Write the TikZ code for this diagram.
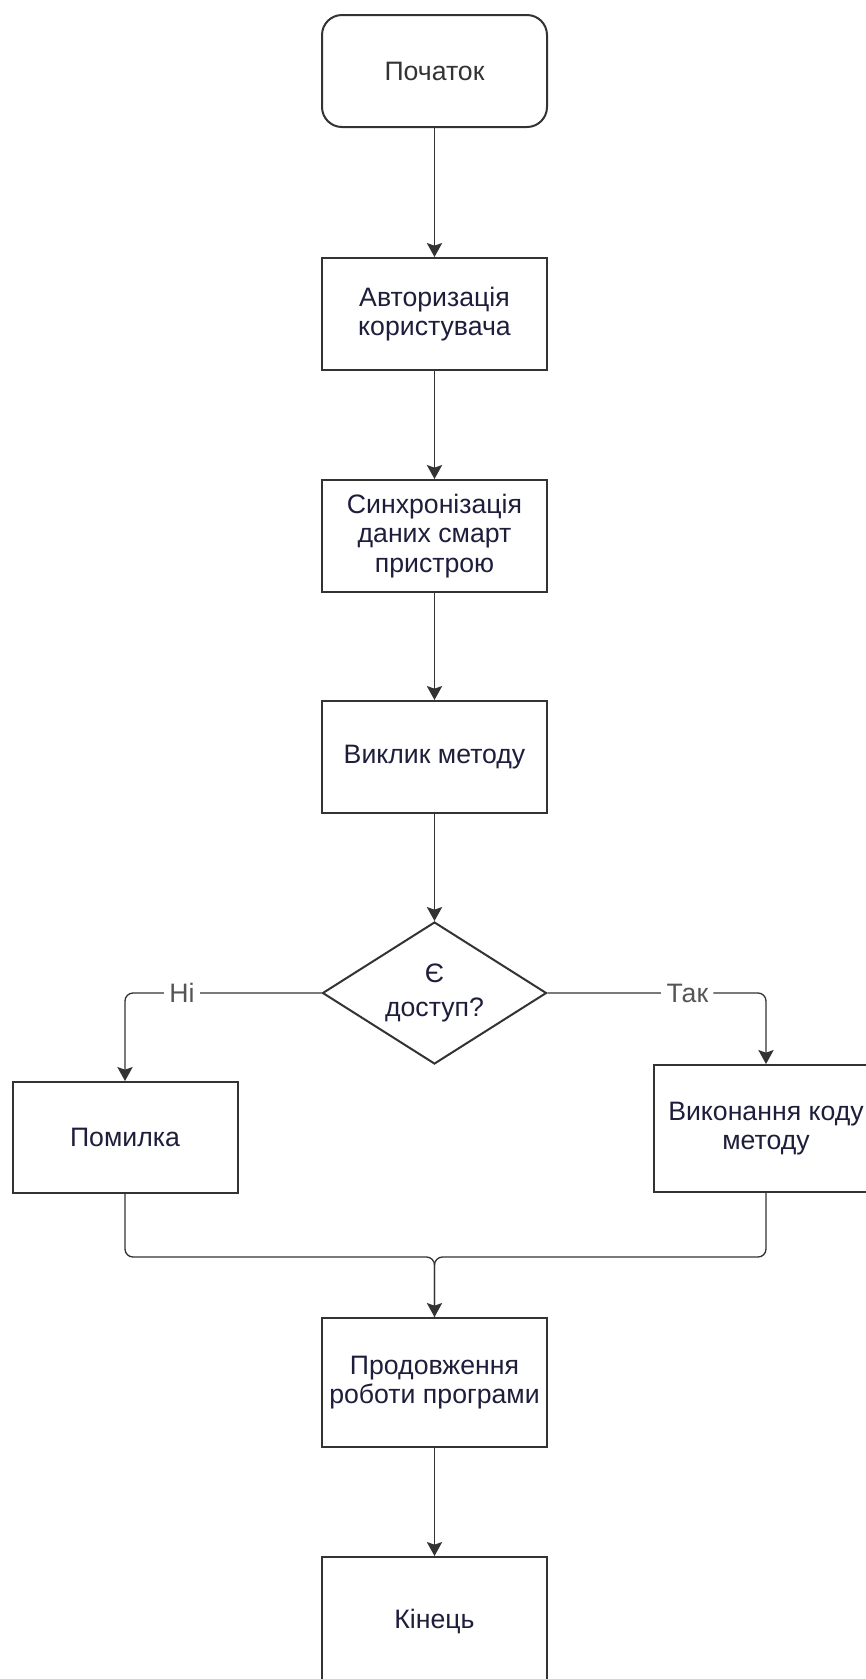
\documentclass[tikz,border=0pt]{standalone}
\usepackage{fontspec}
\setmainfont{Liberation Sans}
\usepackage{tikz}
\usetikzlibrary{arrows.meta,positioning,shapes.geometric}
\definecolor{linegray}{HTML}{333333}
\definecolor{textnavy}{HTML}{1E1E3C}
\definecolor{labelgray}{HTML}{555555}

\begin{document}
\begin{tikzpicture}[x=0.75pt, y=-0.75pt,
  line/.style={draw=linegray, line width=1pt, rounded corners=6pt},
  arr/.style={line, -{Stealth[length=10.5pt, width=11.5pt, inset=2pt]}},
  startbox/.style={draw=linegray, line width=1.5pt, rounded corners=15pt, fill=white,
                   minimum width=168.75pt, minimum height=84pt, inner sep=0pt,
                   align=center, text=linegray, font=\fontsize{20}{22}\selectfont},
  pbox/.style={draw=linegray, line width=1.5pt, fill=white,
               minimum width=168.75pt, minimum height=84pt, inner sep=0pt,
               align=center, text=textnavy, font=\fontsize{20}{22}\selectfont},
  decbox/.style={diamond, aspect=1.6, draw=linegray, line width=1.5pt, fill=white,
                 minimum width=168pt, minimum height=106.5pt, inner sep=0pt,
                 align=center, text=textnavy, font=\fontsize{20}{22}\selectfont},
  lbl/.style={fill=white, inner xsep=4pt, inner ysep=1pt, text=labelgray,
              font=\fontsize{20}{22}\selectfont},
]
\useasboundingbox (0,0) rectangle (866,1679);

\node[startbox] (start) at (434.5,71) {Початок};

\node[pbox] (auth) at (434.5,314)
  {Авторизація\\користувача};

\node[pbox] (sync) at (434.5,536)
  {Синхронізація\\даних смарт\\пристрою};

\node[pbox] (call) at (434.5,757)
  {Виклик методу};

\node[decbox] (access) at (434.5,993)
  {Є\\[3.5pt]доступ?};

\node[pbox, minimum height=83.25pt] (err) at (125,1137.5)
  {Помилка};

\node[pbox, minimum height=95.25pt] (exec) at (766,1128.5)
  {Виконання коду\\методу};

\node[pbox, minimum height=96.75pt] (cont) at (434.5,1382.5)
  {Продовження\\роботи програми};

\node[pbox, minimum height=96pt] (fin) at (434.5,1621)
  {Кінець};

\coordinate (join) at (434.5,1257);

\draw[arr] (start.south) -- (auth.north);
\draw[arr] (auth.south)  -- (sync.north);
\draw[arr] (sync.south)  -- (call.north);
\draw[arr] (call.south)  -- (access.north);
\draw[arr] (access.west) -| node[lbl, pos=0.355] (no) {Ні} (err.north);
\draw[arr] (access.east) -| node[lbl, pos=0.32] (yes) {Так} (exec.north);
\draw[line] (err.south)  |- (join) -- (cont.north);
\draw[arr] (exec.south)  |- (join) -- (cont.north);
\draw[arr] (cont.south)  -- (fin.north);
\end{tikzpicture}
\end{document}
